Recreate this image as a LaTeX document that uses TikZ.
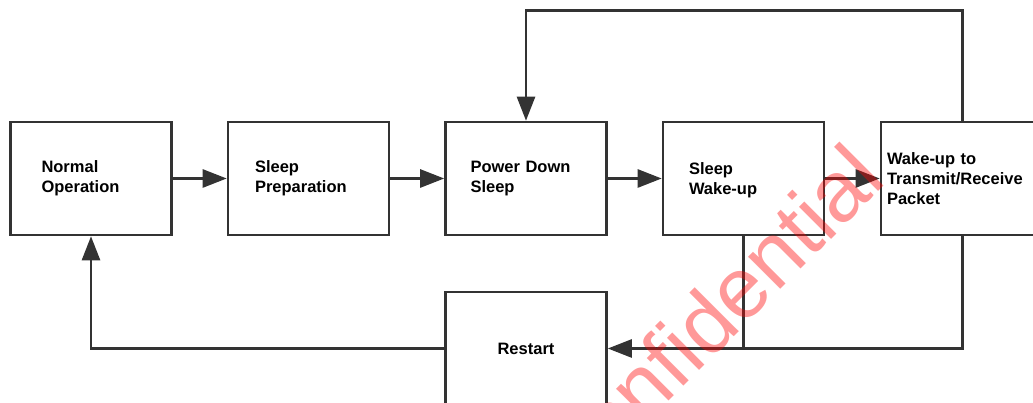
\documentclass[tikz,border=0pt]{standalone}
\usepackage{fontspec}
\newfontfamily\lblfont{Liberation Sans}
\usetikzlibrary{arrows.meta}
\definecolor{ink}{HTML}{333333}

\tikzset{
  blk/.style={draw=ink, line width=2.6pt, fill=white, minimum width=161pt,
    minimum height=113pt, align=left, text=black,
    font=\lblfont\bfseries\fontsize{16.5}{20}\selectfont},
  link/.style={draw=ink, line width=2.6pt},
  arr/.style={link, -{Triangle[length=24pt,width=18pt]}}
}

\begin{document}
\begin{tikzpicture}[x=1pt, y=1pt]
  \clip (0,0) rectangle (1033,403);
  \fill[white] (0,0) rectangle (1033,403);
  % top row
  \node[blk, inner xsep=31pt, text width=99pt] (norm) at (91,224.5) {Normal\\Operation};
  \node[blk, inner xsep=27pt, text width=107pt] (prep) at (308.5,224.5) {Sleep\\Preparation};
  \node[blk, inner xsep=25pt, text width=111pt] (pds) at (526,224.5) {Power Down\\Sleep};
  \node[blk, inner xsep=26pt, text width=109pt] (wake) at (743.5,224.5) {\\[-4pt]Sleep\\Wake-up};
  \node[blk, inner xsep=6pt, text width=151pt] (txrx) at (962.5,224.5) {Wake-up to\\Transmit/Receive\\Packet};
  % bottom
  \node[blk, align=center, text width=140pt] (rst) at (526,54.5) {Restart};
  % forward chain
  \draw[arr] (norm) -- (prep);
  \draw[arr] (prep) -- (pds);
  \draw[arr] (pds) -- (wake);
  \draw[arr] (wake) -- (txrx);
  % loops
  \draw[arr] (txrx.north) -- ++(0,110) -| (pds.north);
  \draw[arr] (txrx.south) |- (rst.east);
  \draw[link] (wake.south) -- (wake.south |- rst.east);
  \draw[arr] (rst.west) -| (norm.south);
  % watermark
  \node[text=red, opacity=0.4, rotate=45, font=\lblfont\fontsize{86}{86}\selectfont] (wmark) at (706,82) {Confidential};
\end{tikzpicture}
\end{document}
